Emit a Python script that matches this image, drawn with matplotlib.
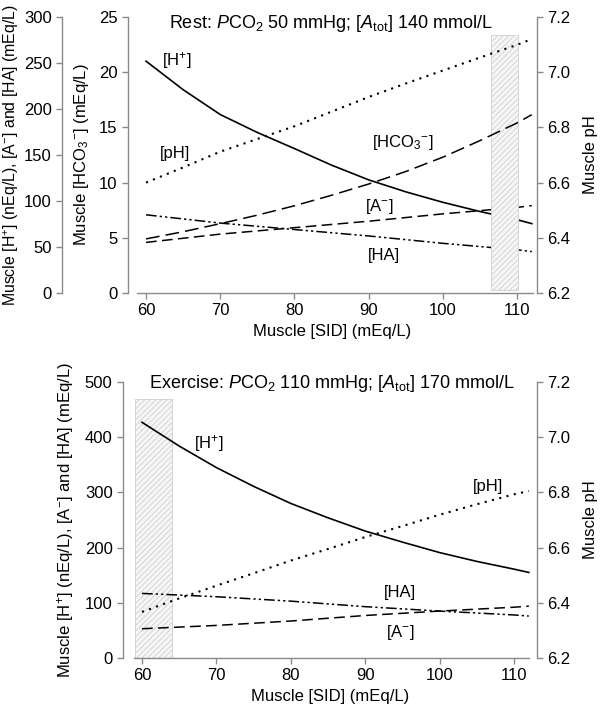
import matplotlib
matplotlib.use("Agg")
import matplotlib.pyplot as plt
from matplotlib.patches import Rectangle

plt.rcParams['font.family'] = ['Liberation Sans', 'DejaVu Sans']
plt.rcParams['mathtext.fontset'] = 'custom'
plt.rcParams['mathtext.rm'] = 'Liberation Sans'
plt.rcParams['mathtext.it'] = 'Liberation Sans:italic'
plt.rcParams['mathtext.bf'] = 'Liberation Sans:bold'
plt.rcParams['hatch.linewidth'] = 0.6
plt.rcParams['hatch.color'] = '#c4c4c4'

# muscle SID (mEq/L)
sid = [60, 65, 70, 75, 80, 85, 90, 95, 100, 105, 110, 112]

# rest: PCO2 50 mmHg, Atot 140
rest_h = [252, 221, 194, 174.5, 157, 139, 123, 110, 98.6, 88.6, 79.7, 75.4]   # nEq/L
rest_ph = [6.60, 6.655, 6.712, 6.758, 6.804, 6.857, 6.91, 6.959, 7.006, 7.053, 7.099, 7.12]
rest_hco3 = [4.9, 5.55, 6.28, 7.05, 7.9, 8.85, 9.87, 11.0, 12.3, 13.8, 15.4, 16.15]
rest_a = [55, 59.5, 64, 67.5, 71, 74.5, 78, 82, 86, 89.5, 93, 95]
rest_ha = [85, 80.5, 76, 72.5, 69, 65.5, 62, 58, 54, 50.5, 47, 45]
rest_shade = (106.5, 110.1, 7.135)

# exercise: PCO2 110 mmHg, Atot 170
ex_h = [427, 384, 345, 311, 280, 254, 230, 210, 191, 175, 161, 155]
ex_ph = [6.367, 6.416, 6.462, 6.507, 6.553, 6.595, 6.638, 6.678, 6.719, 6.757, 6.793, 6.805]
ex_a = [53, 56, 59, 63, 67, 72, 77, 81, 85, 88.5, 92, 94]
ex_ha = [117, 114, 111, 107, 103, 98, 93, 89, 85, 81.5, 78, 76]
ex_shade = (59.06, 64.0, 469)

SP = '#8a8a8a'
FS = 12
W, H = 600, 710

fig = plt.figure(figsize=(6, 7.1), dpi=100)


def style(a, sides):
    for s in ['top', 'right', 'left', 'bottom']:
        a.spines[s].set_visible(s in sides)
        a.spines[s].set_color(SP)
        a.spines[s].set_linewidth(1.0)
    a.tick_params(colors=SP, labelcolor='black', labelsize=FS, length=4, width=1.0)


ls = dict(h='-', ph=(0, (1, 2.6)), hco3=(0, (9, 4)), a=(0, (7, 3.5)),
          ha=(0, (7, 2, 1.5, 2, 1.5, 2)))
h_label = r'Muscle [H$^{+}$] (nEq/L), [A$^{-}$] and [HA] (mEq/L)'

# ---------------- top panel ----------------
ax = fig.add_axes([128 / W, 1 - 293 / H, 409 / W, 276 / H])
ax_o = ax.twinx()
ax_p = ax.twinx()
ax.set_zorder(3); ax.patch.set_visible(False)

ax.set_xlim(57.57, 112.7)
ax.set_ylim(0, 25)
ax_o.set_ylim(0, 300)
ax_p.set_ylim(6.2, 7.2)
style(ax, ['left', 'bottom'])
style(ax_o, ['left'])
style(ax_p, ['right'])
ax.spines['bottom'].set_bounds(58.8, 112.2)
ax_o.yaxis.set_ticks_position('left')
ax_o.yaxis.set_label_position('left')
ax_o.spines['left'].set_position(('axes', -66 / 409))
ax.set_xticks(range(60, 111, 10))
ax.set_yticks(range(0, 26, 5))
ax_o.set_yticks(range(0, 301, 50))
ax_p.set_yticks([6.2, 6.4, 6.6, 6.8, 7.0, 7.2])
ax_p.set_yticklabels(['6.2', '6.4', '6.6', '6.8', '7.0', '7.2'])

ax_p.add_patch(Rectangle((rest_shade[0], 6.21), rest_shade[1] - rest_shade[0],
                         rest_shade[2] - 6.21, facecolor='#f6f6f6',
                         edgecolor='#cfcfcf', hatch='//////', lw=0.6, zorder=0))

ax_o.plot(sid, rest_h, color='black', ls=ls['h'], lw=1.2)
ax_p.plot(sid, rest_ph, color='black', ls=ls['ph'], lw=1.5)
ax.plot(sid, rest_hco3, color='black', ls=ls['hco3'], lw=1.1)
ax_o.plot(sid, rest_a, color='black', ls=ls['a'], lw=1.1)
ax_o.plot(sid, rest_ha, color='black', ls=ls['ha'], lw=1.1)

ax.text(64.2, 21.1, r'[H$^{+}$]', fontsize=FS, ha='center', va='center')
ax.text(63.9, 12.6, '[pH]', fontsize=FS, ha='center', va='center')
ax.text(94.6, 13.6, r'[HCO$_{3}$$^{-}$]', fontsize=FS, ha='center', va='center')
ax.text(91.4, 7.8, r'[A$^{-}$]', fontsize=FS, ha='center', va='center')
ax.text(92.1, 3.4, '[HA]', fontsize=FS, ha='center', va='center')
ax.text(0.496, 0.978, r'Rest: $\it{P}$CO$_2$ 50 mmHg; [$\it{A}_{\rm tot}$] 140 mmol/L',
        transform=ax.transAxes, fontsize=13, ha='center', va='center')

ax.set_xlabel('Muscle [SID] (mEq/L)', fontsize=FS, labelpad=4)
ax.set_ylabel(r'Muscle [HCO$_{3}$$^{-}$] (mEq/L)', fontsize=FS, labelpad=6)
ax_o.set_ylabel(h_label, fontsize=11.4, labelpad=2)
ax_p.set_ylabel('Muscle pH', fontsize=FS, labelpad=9)

# ---------------- bottom panel ----------------
bx = fig.add_axes([123 / W, 1 - 658 / H, 414 / W, 276 / H])
bx_p = bx.twinx()
bx.set_zorder(3); bx.patch.set_visible(False)

bx.set_xlim(57.45, 113.1)
bx.set_ylim(0, 500)
bx_p.set_ylim(6.2, 7.2)
style(bx, ['left', 'bottom'])
style(bx_p, ['right'])
bx.spines['bottom'].set_bounds(58.9, 112.0)
bx.set_xticks(range(60, 111, 10))
bx.set_yticks(range(0, 501, 100))
bx_p.set_yticks([6.2, 6.4, 6.6, 6.8, 7.0, 7.2])
bx_p.set_yticklabels(['6.2', '6.4', '6.6', '6.8', '7.0', '7.2'])

bx_p.add_patch(Rectangle((ex_shade[0], 6.2), ex_shade[1] - ex_shade[0],
                         ex_shade[2] / 500, facecolor='#f6f6f6',
                         edgecolor='#cfcfcf', hatch='//////', lw=0.6, zorder=0))

bx.plot(sid, ex_h, color='black', ls=ls['h'], lw=1.2)
bx_p.plot(sid, ex_ph, color='black', ls=ls['ph'], lw=1.5)
bx.plot(sid, ex_a, color='black', ls=ls['a'], lw=1.1)
bx.plot(sid, ex_ha, color='black', ls=ls['ha'], lw=1.1)

bx.text(69.0, 389, r'[H$^{+}$]', fontsize=FS, ha='center', va='center')
bx.text(106.5, 310, '[pH]', fontsize=FS, ha='center', va='center')
bx.text(94.7, 118, '[HA]', fontsize=FS, ha='center', va='center')
bx.text(94.7, 47, r'[A$^{-}$]', fontsize=FS, ha='center', va='center')
bx.text(0.505, 0.993, r'Exercise: $\it{P}$CO$_2$ 110 mmHg; [$\it{A}_{\rm tot}$] 170 mmol/L',
        transform=bx.transAxes, fontsize=13, ha='center', va='center')

bx.set_xlabel('Muscle [SID] (mEq/L)', fontsize=FS, labelpad=4)
bx.set_ylabel(h_label, fontsize=FS, labelpad=6)
bx_p.set_ylabel('Muscle pH', fontsize=FS, labelpad=9)

fig.savefig('out.png', dpi=100)
